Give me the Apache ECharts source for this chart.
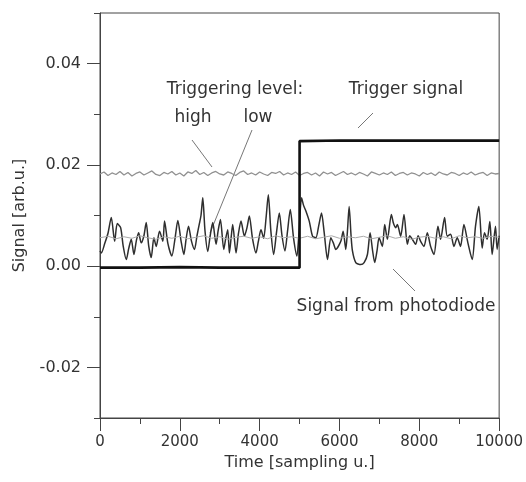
<!DOCTYPE html>
<html>
<head>
<meta charset="utf-8">
<script src="https://cdn.jsdelivr.net/npm/echarts@6/dist/echarts.min.js"></script>
<style>
  html, body { margin: 0; padding: 0; background: #fff; }
  #main { width: 526px; height: 482px; }
</style>
</head>
<body>
<div id="main"></div>
<script>
// photodiode signal
const photoX = [0, 33, 120, 200, 283, 367, 433, 517, 580, 658, 720, 783, 850, 910, 967, 1033, 1100, 1158, 1220, 1283,
  1350, 1408, 1492, 1575, 1617, 1700, 1800, 1880, 1950, 2030, 2100, 2160, 2217, 2290, 2367, 2430, 2490, 2530, 2575, 2630,
  2700, 2760, 2825, 2908, 2960, 3017, 3100, 3150, 3200, 3242, 3290, 3325, 3408, 3470, 3533, 3617, 3680, 3742, 3820, 3908,
  3970, 4033, 4100, 4160, 4217, 4280, 4350, 4420, 4492, 4560, 4633, 4700, 4767, 4850, 4933, 4980, 5050, 5100, 5158, 5242,
  5325, 5408, 5480, 5550, 5617, 5700, 5783, 5850, 5908, 6033, 6092, 6158, 6200, 6242, 6290, 6325, 6408, 6533, 6617, 6700,
  6767, 6830, 6883, 6940, 6992, 7075, 7133, 7200, 7300, 7350, 7408, 7450, 7533, 7617, 7700, 7760, 7825, 7908, 7970, 8033,
  8117, 8200, 8283, 8367, 8467, 8533, 8633, 8700, 8783, 8867, 8950, 9033, 9117, 9217, 9325, 9408, 9492, 9575, 9633, 9700,
  9767, 9825, 9908, 9950, 10000]
const photoY = [0.0030, 0.0026, 0.0045, 0.0065, 0.0096, 0.0049, 0.0084, 0.0076, 0.0040, 0.0013, 0.0035, 0.0053, 0.0023, 0.0050, 0.0066, 0.0046, 0.0060, 0.0086, 0.0040, 0.0017,
  0.0056, 0.0039, 0.0069, 0.0049, 0.0089, 0.0045, 0.0020, 0.0055, 0.0090, 0.0050, 0.0023, 0.0055, 0.0079, 0.0050, 0.0033, 0.0060, 0.0084, 0.0100, 0.0135, 0.0070,
  0.0029, 0.0060, 0.0086, 0.0043, 0.0070, 0.0092, 0.0033, 0.0055, 0.0072, 0.0026, 0.0060, 0.0082, 0.0026, 0.0065, 0.0089, 0.0059, 0.0075, 0.0099, 0.0055, 0.0026,
  0.0050, 0.0072, 0.0055, 0.0095, 0.0141, 0.0070, 0.0023, 0.0065, 0.0105, 0.0060, 0.0030, 0.0070, 0.0112, 0.0055, 0.0020, 0.0060, 0.0135, 0.0120, 0.0109, 0.0089,
  0.0059, 0.0056, 0.0080, 0.0105, 0.0066, 0.0013, 0.0056, 0.0045, 0.0033, 0.0049, 0.0069, 0.0033, 0.0070, 0.0118, 0.0060, 0.0030, 0.0007, 0.0003, 0.0007, 0.0023,
  0.0066, 0.0030, 0.0007, 0.0030, 0.0056, 0.0039, 0.0082, 0.0053, 0.0102, 0.0085, 0.0076, 0.0082, 0.0059, 0.0102, 0.0043, 0.0060, 0.0053, 0.0043, 0.0060, 0.0049,
  0.0039, 0.0066, 0.0039, 0.0023, 0.0079, 0.0053, 0.0096, 0.0059, 0.0063, 0.0039, 0.0056, 0.0039, 0.0082, 0.0046, 0.0013, 0.0079, 0.0118, 0.0036, 0.0066, 0.0053,
  0.0088, 0.0023, 0.0079, 0.0033, 0.0060]

// triggering levels, sampled every highStep / lowStep
const highStep = 100
const highLevel = [
  0.0182, 0.0186, 0.0179, 0.0184, 0.0181, 0.0187, 0.0180, 0.0185, 0.0178, 0.0183,
  0.0186, 0.0180, 0.0184, 0.0188, 0.0181, 0.0179, 0.0185, 0.0182, 0.0187, 0.0180,
  0.0184, 0.0178, 0.0186, 0.0183, 0.0189, 0.0181, 0.0185, 0.0179, 0.0184, 0.0187,
  0.0182, 0.0180, 0.0186, 0.0183, 0.0179, 0.0185, 0.0188, 0.0181, 0.0184, 0.0180,
  0.0186, 0.0182, 0.0179, 0.0185, 0.0183, 0.0187, 0.0180, 0.0184, 0.0181, 0.0186,
  0.0179, 0.0183, 0.0185, 0.0180, 0.0184, 0.0178, 0.0186, 0.0182, 0.0185, 0.0179,
  0.0183, 0.0187, 0.0181, 0.0184, 0.0180, 0.0185, 0.0182, 0.0178, 0.0186, 0.0183,
  0.0180, 0.0184, 0.0181, 0.0186, 0.0179, 0.0183, 0.0185, 0.0180, 0.0184, 0.0182,
  0.0178, 0.0185, 0.0181, 0.0184, 0.0179, 0.0186, 0.0182, 0.0180, 0.0185, 0.0183,
  0.0179, 0.0184, 0.0181, 0.0186, 0.0180, 0.0183, 0.0185, 0.0179, 0.0184, 0.0182,
  0.0183]
const lowStep = 200
const lowLevel = [
  0.0056, 0.0059, 0.0054, 0.0058, 0.0055, 0.0060, 0.0056, 0.0053, 0.0058, 0.0055,
  0.0059, 0.0054, 0.0057, 0.0060, 0.0055, 0.0058, 0.0053, 0.0057, 0.0059, 0.0055,
  0.0058, 0.0054, 0.0060, 0.0056, 0.0058, 0.0055, 0.0059, 0.0054, 0.0057, 0.0060,
  0.0055, 0.0058, 0.0056, 0.0059, 0.0054, 0.0057, 0.0060, 0.0055, 0.0058, 0.0053,
  0.0057, 0.0059, 0.0055, 0.0058, 0.0054, 0.0060, 0.0056, 0.0058, 0.0055, 0.0059, 0.0057]

// trigger signal (step at 5000)
const triggerX = [0, 1000, 2000, 3000, 4000, 5000, 5000, 6000, 7000, 8000, 9000, 10000]
const triggerY = [-0.0003, -0.0003, -0.0002, -0.0003, -0.0003, -0.0003,
  0.0247, 0.0248, 0.0248, 0.0248, 0.0248, 0.0248]

const yMajor = [-0.02, 0, 0.02, 0.04]

const font = 'DejaVu Sans'
const ink = '#333'

const myChart = echarts.init(document.getElementById('main'))

function lineSeries(data, color, width, smooth) {
  return {
    type: 'line',
    data: data,
    showSymbol: false,
    symbol: 'none',
    silent: true,
    smooth: smooth || false,
    lineStyle: { color: color, width: width },
    animation: false
  }
}

const option = {
  backgroundColor: '#fff',
  animation: false,
  grid: {
    left: 100, right: 26, top: 13, bottom: 64,
    show: true, borderColor: '#444', borderWidth: 1
  },
  xAxis: {
    type: 'value',
    min: 0, max: 10000, interval: 2000,
    name: 'Time [sampling u.]',
    nameLocation: 'middle',
    nameGap: 36,
    nameTextStyle: { fontFamily: font, fontSize: 16, color: ink },
    axisLine: { show: true, onZero: false, lineStyle: { color: '#444' } },
    axisTick: { show: true, length: 13, lineStyle: { color: '#444' } },
    minorTick: { show: true, splitNumber: 2, length: 6, lineStyle: { color: '#444' } },
    splitLine: { show: false },
    axisLabel: { fontFamily: font, fontSize: 15, color: ink, margin: 17, formatter: v => String(v) }
  },
  yAxis: [{
    type: 'value',
    min: -0.03, max: 0.05, interval: 0.01,
    name: 'Signal [arb.u.]',
    nameLocation: 'middle',
    nameGap: 72,
    nameTextStyle: { fontFamily: font, fontSize: 16, color: ink },
    axisLine: { show: true, onZero: false, lineStyle: { color: '#444' } },
    axisTick: { show: true, length: 6, lineStyle: { color: '#444' } },
    splitLine: { show: false },
    axisLabel: {
      fontFamily: font, fontSize: 16, color: ink, margin: 19,
      formatter: function (v) {
        return Math.round(v * 100) % 2 === 0 ? v.toFixed(2) : ''
      }
    }
  }, {
    type: 'value',
    position: 'left',
    min: -0.03, max: 0.05, interval: 0.01,
    axisLine: { show: false, onZero: false },
    axisTick: { show: true, customValues: yMajor, length: 13, lineStyle: { color: '#444' } },
    axisLabel: { show: false },
    splitLine: { show: false }
  }],
  series: [
    lineSeries(photoX.map((x, i) => [x, photoY[i]]), '#2e2e2e', 1.5, 0.25),
    lineSeries(highLevel.map((v, i) => [i * highStep, v]), '#909090', 1.3),
    lineSeries(lowLevel.map((v, i) => [i * lowStep, v]), '#aaaaaa', 1),
    lineSeries(triggerX.map((x, i) => [x, triggerY[i]]), '#111', 2.6)
  ],
  graphic: [
    { type: 'text', x: 235, y: 90, style: { text: 'Triggering level:', font: '17px "DejaVu Sans"', fill: ink, align: 'center', verticalAlign: 'middle' } },
    { type: 'text', x: 193, y: 118, style: { text: 'high', font: '17px "DejaVu Sans"', fill: ink, align: 'center', verticalAlign: 'middle' } },
    { type: 'text', x: 258, y: 118, style: { text: 'low', font: '17px "DejaVu Sans"', fill: ink, align: 'center', verticalAlign: 'middle' } },
    { type: 'text', x: 406, y: 90, style: { text: 'Trigger signal', font: '17px "DejaVu Sans"', fill: ink, align: 'center', verticalAlign: 'middle' } },
    { type: 'text', x: 396, y: 307, style: { text: 'Signal from photodiode', font: '17px "DejaVu Sans"', fill: ink, align: 'center', verticalAlign: 'middle' } },
    { type: 'line', shape: { x1: 192, y1: 140, x2: 212, y2: 167 }, style: { stroke: '#777', lineWidth: 1 } },
    { type: 'line', shape: { x1: 252, y1: 130, x2: 210, y2: 233 }, style: { stroke: '#777', lineWidth: 1 } },
    { type: 'line', shape: { x1: 373, y1: 113, x2: 358, y2: 128 }, style: { stroke: '#777', lineWidth: 1 } },
    { type: 'line', shape: { x1: 415, y1: 291, x2: 393, y2: 269 }, style: { stroke: '#777', lineWidth: 1 } }
  ]
}

myChart.setOption(option)
window.onresize = function () {
  myChart.resize()
}
</script>
</body>
</html>
